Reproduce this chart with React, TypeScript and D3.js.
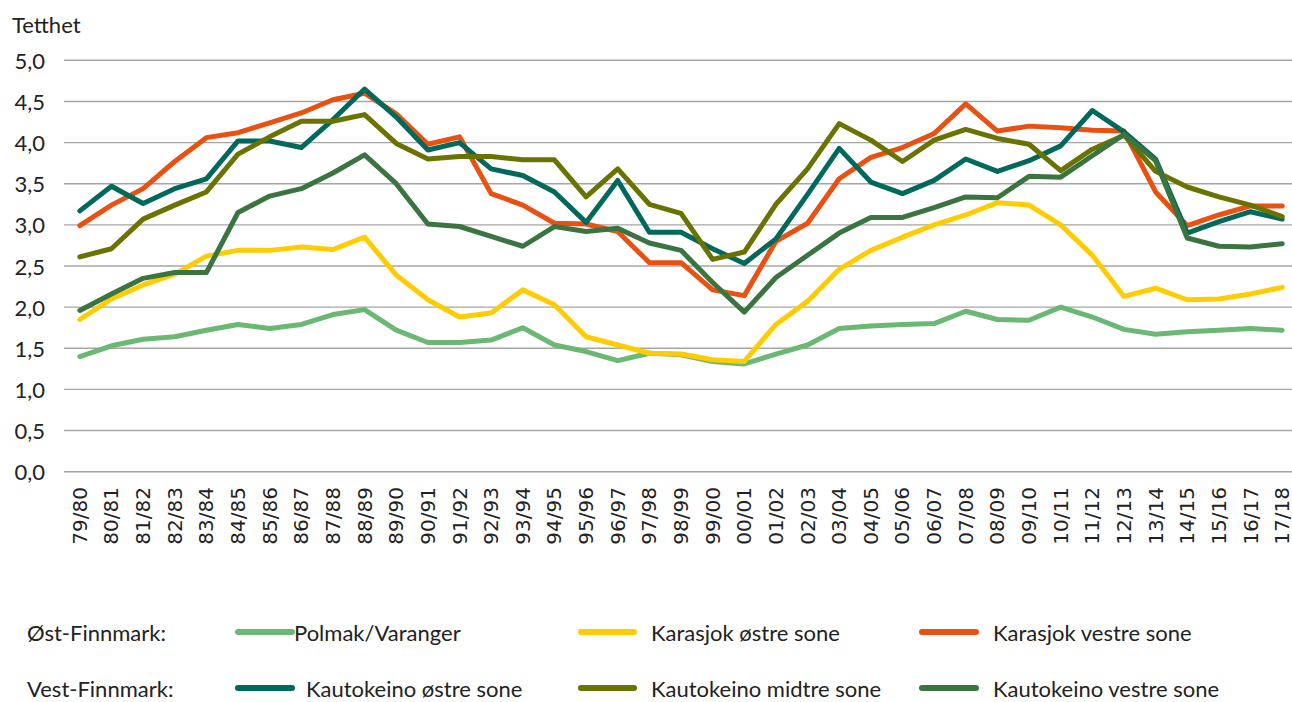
import React from "react";
import * as d3 from "d3";

const seasons = [
  "79/80", "80/81", "81/82", "82/83", "83/84", "84/85", "85/86", "86/87", "87/88", "88/89",
  "89/90", "90/91", "91/92", "92/93", "93/94", "94/95", "95/96", "96/97", "97/98", "98/99",
  "99/00", "00/01", "01/02", "02/03", "03/04", "04/05", "05/06", "06/07", "07/08", "08/09",
  "09/10", "10/11", "11/12", "12/13", "13/14", "14/15", "15/16", "16/17", "17/18",
];

const polmak = [
  1.40, 1.53, 1.61, 1.64, 1.72, 1.79, 1.74, 1.79, 1.91, 1.97,
  1.72, 1.57, 1.57, 1.60, 1.75, 1.54, 1.46, 1.35, 1.44, 1.42,
  1.34, 1.31, 1.43, 1.54, 1.74, 1.77, 1.79, 1.80, 1.95, 1.85,
  1.84, 2.00, 1.88, 1.73, 1.67, 1.70, 1.72, 1.74, 1.72,
];
const karasjokOst = [
  1.85, 2.10, 2.27, 2.40, 2.62, 2.69, 2.69, 2.73, 2.70, 2.85,
  2.39, 2.09, 1.88, 1.93, 2.21, 2.03, 1.64, 1.54, 1.44, 1.43,
  1.36, 1.34, 1.79, 2.07, 2.46, 2.69, 2.85, 3.00, 3.12, 3.27,
  3.24, 3.00, 2.63, 2.13, 2.23, 2.09, 2.10, 2.16, 2.24,
];
const karasjokVest = [
  2.99, 3.24, 3.44, 3.77, 4.06, 4.12, 4.24, 4.36, 4.52, 4.60,
  4.35, 3.98, 4.07, 3.38, 3.24, 3.02, 3.01, 2.92, 2.54, 2.54,
  2.21, 2.14, 2.80, 3.02, 3.56, 3.82, 3.94, 4.11, 4.47, 4.14,
  4.20, 4.18, 4.15, 4.14, 3.40, 2.99, 3.12, 3.23, 3.23,
];
const kautoOst = [
  3.17, 3.47, 3.26, 3.44, 3.56, 4.02, 4.02, 3.94, 4.28, 4.65,
  4.31, 3.91, 4.00, 3.68, 3.60, 3.40, 3.03, 3.54, 2.91, 2.91,
  2.71, 2.53, 2.83, 3.37, 3.93, 3.52, 3.38, 3.54, 3.80, 3.65,
  3.78, 3.96, 4.39, 4.13, 3.80, 2.90, 3.04, 3.16, 3.07,
];
const kautoMidt = [
  2.61, 2.71, 3.07, 3.24, 3.40, 3.86, 4.07, 4.26, 4.26, 4.34,
  3.99, 3.80, 3.83, 3.83, 3.79, 3.79, 3.34, 3.68, 3.25, 3.14,
  2.58, 2.67, 3.25, 3.68, 4.23, 4.03, 3.77, 4.03, 4.16, 4.05,
  3.98, 3.66, 3.92, 4.09, 3.65, 3.46, 3.34, 3.24, 3.10,
];
const kautoVest = [
  1.96, 2.16, 2.35, 2.42, 2.42, 3.15, 3.35, 3.44, 3.63, 3.85,
  3.50, 3.01, 2.98, 2.86, 2.74, 2.98, 2.92, 2.96, 2.78, 2.69,
  2.30, 1.94, 2.36, 2.63, 2.90, 3.09, 3.09, 3.21, 3.34, 3.33,
  3.59, 3.58, 3.84, 4.10, 3.78, 2.84, 2.74, 2.73, 2.77,
];

const yTicks = [0, 0.5, 1, 1.5, 2, 2.5, 3, 3.5, 4, 4.5, 5];

const series = [
  { name: "Polmak/Varanger", values: polmak, color: "#6AB873" },
  { name: "Karasjok østre sone", values: karasjokOst, color: "#FFCC00" },
  { name: "Karasjok vestre sone", values: karasjokVest, color: "#E85112" },
  { name: "Kautokeino østre sone", values: kautoOst, color: "#00695C" },
  { name: "Kautokeino midtre sone", values: kautoMidt, color: "#6B7300" },
  { name: "Kautokeino vestre sone", values: kautoVest, color: "#3A7440" },
];

// legend slots: [lineX0, lineX1, textX, rowY]
const legendSlots = [
  [238, 292, 294, 632],
  [581, 634, 651, 632],
  [922, 976, 993, 632],
  [238, 292, 306, 688],
  [581, 634, 651, 688],
  [922, 976, 993, 688],
];

const W = 1292;
const H = 702;
const font = "Lato, 'Open Sans', sans-serif";

export default function App() {
  const x = d3.scaleBand<string>().domain(seasons).range([64, 1298]).padding(0);
  const y = d3.scaleLinear().domain([0, 5]).range([471.7, 60.3]);
  const cx = (s: string) => (x(s) ?? 0) + x.bandwidth() / 2;

  const line = d3
    .line<number>()
    .x((_, i) => cx(seasons[i]))
    .y((d) => y(d));

  const fmt = (v: number) => v.toFixed(1).replace(".", ",");

  return (
    <svg
      width={W}
      height={H}
      style={{ position: "absolute", left: 0, top: 0, background: "#fff" }}
    >
      <text x={12} y={33} fontFamily={font} fontSize={22} fill="#222">
        Tetthet
      </text>

      {yTicks.map((t) => (
        <g key={t}>
          <line x1={64} x2={1298} y1={y(t)} y2={y(t)} stroke="#A6A6A6" strokeWidth={1.4} />
          <text
            x={45}
            y={y(t)}
            textAnchor="end"
            dominantBaseline="central"
            fontFamily={font}
            fontSize={22}
            fill="#222"
          >
            {fmt(t)}
          </text>
        </g>
      ))}

      {seasons.map((s) => (
        <text
          key={s}
          transform={`translate(${cx(s)},${487}) rotate(-90)`}
          textAnchor="end"
          dominantBaseline="central"
          fontFamily="'DejaVu Sans', sans-serif"
          fontSize={20}
          fill="#222"
        >
          {s}
        </text>
      ))}

      {series.map((s) => (
        <path
          key={s.name}
          d={line(s.values) ?? ""}
          fill="none"
          stroke={s.color}
          strokeWidth={5}
          strokeLinejoin="round"
          strokeLinecap="round"
        />
      ))}

      <text x={27} y={632} dominantBaseline="central" fontFamily={font} fontSize={22} fill="#222">
        Øst-Finnmark:
      </text>
      <text x={27} y={688} dominantBaseline="central" fontFamily={font} fontSize={22} fill="#222">
        Vest-Finnmark:
      </text>
      {series.map((s, i) => {
        const [x0, x1, tx, ry] = legendSlots[i];
        return (
          <g key={s.name}>
            <line x1={x0} x2={x1} y1={ry} y2={ry} stroke={s.color} strokeWidth={6} strokeLinecap="round" />
            <text x={tx} y={ry} dominantBaseline="central" fontFamily={font} fontSize={22} fill="#222">
              {s.name}
            </text>
          </g>
        );
      })}
    </svg>
  );
}
